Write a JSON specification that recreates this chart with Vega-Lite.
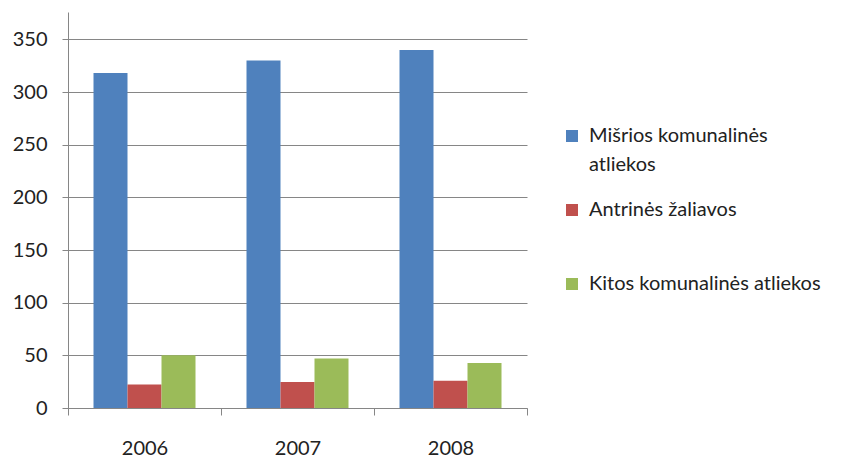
{
  "$schema": "https://vega.github.io/schema/vega-lite/v6.json",
  "width": 459,
  "height": 396,
  "autosize": {"type": "none"},
  "padding": {"left": 68, "top": 12, "right": 319, "bottom": 49},
  "background": "white",
  "config": {
    "view": {"stroke": null},
    "font": "Lato",
    "axis": {"labelFont": "Lato", "labelColor": "#222222"},
    "legend": {"labelFont": "Lato"}
  },
  "data": {
    "values": [
      {"year": "2006", "series": "Mišrios komunalinės atliekos", "value": 318},
      {"year": "2006", "series": "Antrinės žaliavos", "value": 22.4},
      {"year": "2006", "series": "Kitos komunalinės atliekos", "value": 50},
      {"year": "2007", "series": "Mišrios komunalinės atliekos", "value": 330},
      {"year": "2007", "series": "Antrinės žaliavos", "value": 24.7},
      {"year": "2007", "series": "Kitos komunalinės atliekos", "value": 47},
      {"year": "2008", "series": "Mišrios komunalinės atliekos", "value": 340},
      {"year": "2008", "series": "Antrinės žaliavos", "value": 25.9},
      {"year": "2008", "series": "Kitos komunalinės atliekos", "value": 42.7}
    ]
  },
  "mark": {"type": "bar"},
  "encoding": {
    "x": {
      "field": "year",
      "type": "nominal",
      "scale": {"paddingInner": 0, "paddingOuter": 0},
      "axis": {
        "title": null,
        "labelAngle": 0,
        "labelFontSize": 20,
        "labelPadding": 23,
        "tickBand": "extent",
        "tickSize": 7,
        "tickColor": "#868686",
        "domainColor": "#868686",
        "grid": false
      }
    },
    "xOffset": {
      "field": "series",
      "type": "nominal",
      "sort": ["Mišrios komunalinės atliekos", "Antrinės žaliavos", "Kitos komunalinės atliekos"],
      "scale": {"paddingInner": 0, "paddingOuter": 0.75}
    },
    "y": {
      "field": "value",
      "type": "quantitative",
      "scale": {"domain": [0, 376], "nice": false},
      "axis": {
        "title": null,
        "values": [0, 50, 100, 150, 200, 250, 300, 350],
        "labelFontSize": 20,
        "labelPadding": 15,
        "tickSize": 6,
        "tickColor": "#868686",
        "domainColor": "#868686",
        "gridColor": "#868686",
        "grid": true
      }
    },
    "color": {
      "field": "series",
      "type": "nominal",
      "sort": ["Mišrios komunalinės atliekos", "Antrinės žaliavos", "Kitos komunalinės atliekos"],
      "scale": {"range": ["#4F81BD", "#C0504D", "#9BBB59"]},
      "legend": {
        "title": null,
        "orient": "none",
        "legendX": 494,
        "legendY": 114,
        "symbolType": "square",
        "symbolSize": 144,
        "symbolStrokeWidth": 0,
        "labelFontSize": 20,
        "labelColor": "#222222",
        "labelLimit": 400,
        "labelOffset": 7,
        "rowPadding": 25,
        "labelBaseline": "middle",
        "labelExpr": "datum.label == 'Mišrios komunalinės atliekos' ? ['Mišrios komunalinės', 'atliekos'] : [datum.label, '']",
        "encode": {"labels": {"update": {"lineHeight": {"value": 29}}}}
      }
    }
  }
}
